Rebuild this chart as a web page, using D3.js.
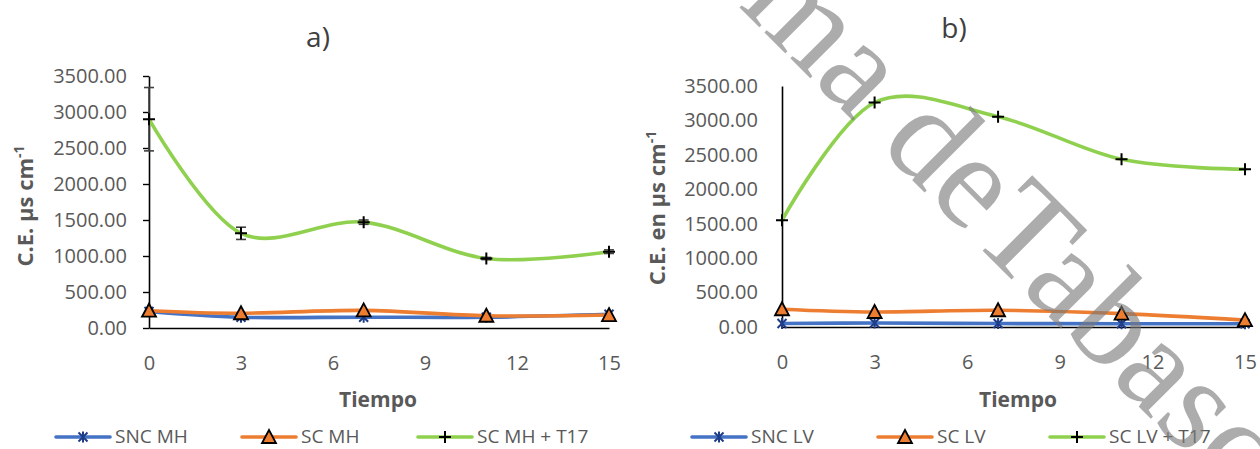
<!DOCTYPE html>
<html>
<head>
<meta charset="utf-8">
<script src="https://cdn.jsdelivr.net/npm/d3@7"></script>
<style>
  html, body { margin: 0; padding: 0; background: #fff; }
  svg { display: block; font-family: 'Open Sans', sans-serif; }
</style>
</head>
<body>
<svg id="chart" width="1260" height="449"></svg>
<script>
// Days sampled
const days = [0, 3, 7, 11, 15];
const xTicks = [0, 3, 6, 9, 12, 15];
const yTicks = [0, 500, 1000, 1500, 2000, 2500, 3000, 3500];

// Panel a) - MH
const sncMH = [230, 150, 150, 150, 190];
const scMH = [240, 205, 245, 170, 180];
const scMHT17 = [2900, 1315, 1470, 965, 1060];
const scMHT17Err = [440, 85, 30, 15, 25];

// Panel b) - LV
const sncLV = [50, 58, 50, 48, 48];
const scLV = [258, 218, 243, 194, 100];
const scLVT17 = [1550, 3260, 3055, 2435, 2290];

const svg = d3.select('#chart');

const BLUE = '#4472c4', ORANGE = '#ed7d31', GREEN = '#8fd14f', NAVY = '#1f3c88';
const GREY = '#595959';

// Marker drawers
function markerStar(g, x, y) {
    const s = 4.5;
    g.append('path')
        .attr('d', `M${x - s},${y - s}L${x + s},${y + s}M${x - s},${y + s}L${x + s},${y - s}M${x},${y - s - 1}L${x},${y + s + 1}`)
        .attr('stroke', NAVY).attr('stroke-width', 2).attr('fill', 'none');
}
function markerTri(g, x, y) {
    const w = 7, h = 12;
    g.append('path')
        .attr('d', `M${x},${y - h / 2 - 1}L${x + w},${y + h / 2}L${x - w},${y + h / 2}Z`)
        .attr('fill', ORANGE).attr('stroke', '#000').attr('stroke-width', 1.8)
        .attr('stroke-linejoin', 'miter');
}
function markerPlus(g, x, y) {
    const s = 6;
    g.append('path')
        .attr('d', `M${x - s},${y}L${x + s},${y}M${x},${y - s}L${x},${y + s}`)
        .attr('stroke', '#000').attr('stroke-width', 2).attr('fill', 'none');
}

function drawPanel(cfg) {
    const x = d3.scaleLinear().domain([0, 15]).range(cfg.xRange);
    const y = d3.scaleLinear().domain([0, 3500]).range(cfg.yRange);
    const g = svg.append('g');

    // Y axis
    const yAxis = d3.axisLeft(y).tickValues(yTicks).tickFormat(d3.format('.2f'))
        .tickSize(cfg.yTickSize).tickSizeOuter(0).tickPadding(cfg.yPad);
    const ya = g.append('g').attr('transform', `translate(${cfg.xRange[0]},0)`).call(yAxis);
    ya.select('.domain').attr('stroke', '#000').attr('stroke-width', 1.6);
    ya.selectAll('line').attr('stroke', '#000').attr('stroke-width', 1.4);
    ya.selectAll('text').attr('fill', GREY).style('font-size', '20px')
        .style('font-family', "'Open Sans', sans-serif");

    // X axis
    const xAxis = d3.axisBottom(x).tickValues(xTicks).tickSize(0).tickPadding(36);
    const xa = g.append('g').attr('transform', `translate(0,${cfg.yRange[0]})`).call(xAxis);
    xa.select('.domain').attr('stroke', '#000').attr('stroke-width', 1.6);
    xa.selectAll('text').attr('fill', GREY).style('font-size', '20px')
        .style('font-family', "'Open Sans', sans-serif").attr('dy', '0.3em');

    // Title
    g.append('text').attr('x', cfg.titleX).attr('y', cfg.titleY).attr('text-anchor', 'middle')
        .attr('fill', '#404040').style('font-size', '28px').text(cfg.title);

    // Axis titles
    g.append('text').attr('x', cfg.xTitleX).attr('y', 407).attr('text-anchor', 'middle')
        .attr('fill', GREY).style('font-size', '21px').style('font-weight', 'bold').text('Tiempo');

    const yt = g.append('text')
        .attr('transform', `translate(${cfg.yTitleX},${cfg.yTitleY}) rotate(-90)`)
        .attr('text-anchor', 'middle').attr('fill', GREY)
        .style('font-size', '22px').style('font-weight', 'bold');
    yt.append('tspan').text(cfg.yTitle);
    yt.append('tspan').attr('dy', -9).style('font-size', '14px').text('-1');

    // Lines
    const line = d3.line().x((d, i) => x(days[i])).y(d => y(d)).curve(d3.curveCatmullRom.alpha(0));
    const series = cfg.series;
    series.forEach(s => {
        g.append('path').datum(s.values).attr('d', line)
            .attr('fill', 'none').attr('stroke', s.color).attr('stroke-width', 3.6)
            .attr('stroke-linecap', 'round');
    });

    // Error bars
    if (cfg.err) {
        const eb = g.append('g').attr('stroke', '#404040').attr('stroke-width', 1.6);
        cfg.err.values.forEach((e, i) => {
            const v = cfg.err.base[i];
            const cx = x(days[i]);
            eb.append('line').attr('x1', cx).attr('x2', cx).attr('y1', y(v - e)).attr('y2', y(v + e));
            [v - e, v + e].forEach(t => {
                eb.append('line').attr('x1', cx - 5).attr('x2', cx + 5).attr('y1', y(t)).attr('y2', y(t));
            });
        });
    }

    // Markers
    series.forEach(s => {
        s.values.forEach((v, i) => s.marker(g, x(days[i]), y(v)));
    });

    // Legend
    const lg = g.append('g');
    cfg.legend.forEach((item, i) => {
        const s = series[i];
        const ly = cfg.legendY;
        lg.append('line').attr('x1', item.x).attr('x2', item.x + 54).attr('y1', ly).attr('y2', ly)
            .attr('stroke', s.color).attr('stroke-width', 3.6).attr('stroke-linecap', 'round');
        s.marker(lg, item.x + 27, ly);
        lg.append('text').attr('x', item.x + 59).attr('y', ly + 6).attr('fill', GREY)
            .style('font-size', '19px').text(s.name);
    });
}

drawPanel({
    xRange: [149, 609], yRange: [328, 76], yTickSize: 6, yPad: 16,
    title: 'a)', titleX: 318, titleY: 47,
    xTitleX: 378, yTitle: 'C.E. µs cm', yTitleX: 33, yTitleY: 206,
    series: [
        { name: 'SNC MH', values: sncMH, color: BLUE, marker: markerStar },
        { name: 'SC MH', values: scMH, color: ORANGE, marker: markerTri },
        { name: 'SC MH + T17', values: scMHT17, color: GREEN, marker: markerPlus }
    ],
    err: { base: scMHT17, values: scMHT17Err },
    legendY: 437,
    legend: [{ x: 56 }, { x: 242 }, { x: 418 }]
});

drawPanel({
    xRange: [782, 1245], yRange: [327, 86], yTickSize: 0, yPad: 24,
    title: 'b)', titleX: 954, titleY: 38,
    xTitleX: 1018, yTitle: 'C.E. en µs cm', yTitleX: 665, yTitleY: 208,
    series: [
        { name: 'SNC LV', values: sncLV, color: BLUE, marker: markerStar },
        { name: 'SC LV', values: scLV, color: ORANGE, marker: markerTri },
        { name: 'SC LV + T17', values: scLVT17, color: GREEN, marker: markerPlus }
    ],
    legendY: 437,
    legend: [{ x: 692 }, { x: 878 }, { x: 1050 }]
});

// Watermark
const wm = svg.append('g')
    .attr('transform', 'translate(968,236) rotate(45)')
    .attr('fill', '#7a7a7a').attr('opacity', 0.62)
    .style('font-family', "'Liberation Serif', serif").style('font-size', '135px');
wm.append('text').attr('text-anchor', 'end').text('Autónoma de ');
wm.append('text').attr('text-anchor', 'start').text('Tabasco');
</script>
</body>
</html>
